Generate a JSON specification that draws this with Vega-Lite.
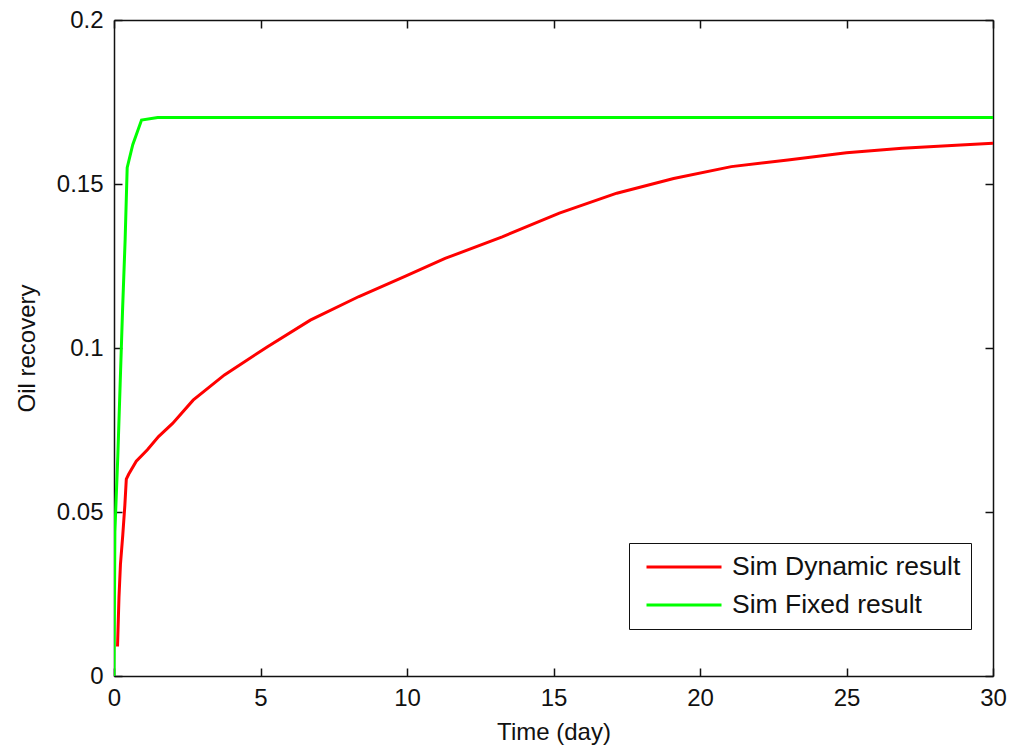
{
  "$schema": "https://vega.github.io/schema/vega-lite/v6.json",
  "width": 879,
  "height": 656,
  "autosize": {"type": "none"},
  "padding": {"left": 114, "top": 20, "right": 18, "bottom": 75},
  "background": "white",
  "config": {
    "font": "Liberation Sans",
    "view": {"stroke": null},
    "axis": {
      "grid": false,
      "domainColor": "#111111",
      "domainWidth": 1.5,
      "tickColor": "#111111",
      "tickWidth": 1.5,
      "tickSize": -8,
      "labelFlush": false,
      "labelFontSize": 24,
      "labelColor": "#111111",
      "titleFontSize": 24,
      "titleFontWeight": "normal",
      "titleColor": "#111111"
    },
    "legend": {
      "orient": "none",
      "legendX": 515,
      "legendY": 523,
      "strokeColor": "#111111",
      "fillColor": "white",
      "padding": 10,
      "symbolType": "stroke",
      "symbolSize": 5625,
      "symbolStrokeWidth": 3,
      "symbolOffset": 6,
      "labelOffset": 9,
      "labelFontSize": 26.5,
      "labelColor": "#111111",
      "labelLimit": 400,
      "clipHeight": 28,
      "rowPadding": 10
    }
  },
  "data": {
    "values": [
      {"series": "Sim Dynamic result", "day": 0.12, "recovery": 0.009},
      {"series": "Sim Dynamic result", "day": 0.17, "recovery": 0.024},
      {"series": "Sim Dynamic result", "day": 0.22, "recovery": 0.034},
      {"series": "Sim Dynamic result", "day": 0.3, "recovery": 0.043},
      {"series": "Sim Dynamic result", "day": 0.37, "recovery": 0.052},
      {"series": "Sim Dynamic result", "day": 0.42, "recovery": 0.06},
      {"series": "Sim Dynamic result", "day": 0.5, "recovery": 0.0615},
      {"series": "Sim Dynamic result", "day": 0.76, "recovery": 0.0655},
      {"series": "Sim Dynamic result", "day": 1.14, "recovery": 0.069},
      {"series": "Sim Dynamic result", "day": 1.52, "recovery": 0.073},
      {"series": "Sim Dynamic result", "day": 2.0, "recovery": 0.077},
      {"series": "Sim Dynamic result", "day": 2.7, "recovery": 0.0841},
      {"series": "Sim Dynamic result", "day": 3.77, "recovery": 0.0918},
      {"series": "Sim Dynamic result", "day": 5.24, "recovery": 0.1004},
      {"series": "Sim Dynamic result", "day": 6.7, "recovery": 0.1085},
      {"series": "Sim Dynamic result", "day": 8.36, "recovery": 0.1157},
      {"series": "Sim Dynamic result", "day": 9.93, "recovery": 0.1218},
      {"series": "Sim Dynamic result", "day": 11.3, "recovery": 0.1273},
      {"series": "Sim Dynamic result", "day": 13.25, "recovery": 0.1339},
      {"series": "Sim Dynamic result", "day": 15.2, "recovery": 0.1411},
      {"series": "Sim Dynamic result", "day": 17.16, "recovery": 0.1472},
      {"series": "Sim Dynamic result", "day": 19.1, "recovery": 0.1517},
      {"series": "Sim Dynamic result", "day": 21.07, "recovery": 0.1553},
      {"series": "Sim Dynamic result", "day": 23.0, "recovery": 0.1573},
      {"series": "Sim Dynamic result", "day": 25.0, "recovery": 0.1595},
      {"series": "Sim Dynamic result", "day": 26.9, "recovery": 0.1609},
      {"series": "Sim Dynamic result", "day": 28.9, "recovery": 0.1619},
      {"series": "Sim Dynamic result", "day": 30.0, "recovery": 0.1624},
      {"series": "Sim Fixed result", "day": 0.0, "recovery": 0.0},
      {"series": "Sim Fixed result", "day": 0.03, "recovery": 0.044},
      {"series": "Sim Fixed result", "day": 0.13, "recovery": 0.067},
      {"series": "Sim Fixed result", "day": 0.21, "recovery": 0.089},
      {"series": "Sim Fixed result", "day": 0.29, "recovery": 0.111},
      {"series": "Sim Fixed result", "day": 0.38, "recovery": 0.133},
      {"series": "Sim Fixed result", "day": 0.45, "recovery": 0.155},
      {"series": "Sim Fixed result", "day": 0.64, "recovery": 0.162},
      {"series": "Sim Fixed result", "day": 0.94, "recovery": 0.1695},
      {"series": "Sim Fixed result", "day": 1.49, "recovery": 0.1703},
      {"series": "Sim Fixed result", "day": 30.0, "recovery": 0.1703}
    ]
  },
  "layer": [
    {
      "mark": {"type": "line", "strokeWidth": 3, "clip": true},
      "encoding": {
        "x": {
          "field": "day",
          "type": "quantitative",
          "scale": {"domain": [0, 30], "nice": false, "zero": false},
          "axis": {
            "orient": "bottom",
            "values": [0, 5, 10, 15, 20, 25, 30],
            "title": "Time (day)",
            "labelPadding": 18,
            "titlePadding": 10
          }
        },
        "y": {
          "field": "recovery",
          "type": "quantitative",
          "scale": {"domain": [0, 0.2], "nice": false},
          "axis": {
            "orient": "left",
            "values": [0, 0.05, 0.1, 0.15, 0.2],
            "format": "~g",
            "title": "Oil recovery",
            "labelPadding": 19,
            "titlePadding": 17
          }
        },
        "color": {
          "field": "series",
          "type": "nominal",
          "scale": {
            "domain": ["Sim Dynamic result", "Sim Fixed result"],
            "range": ["#ff0000", "#00ff00"]
          },
          "legend": {"title": null}
        }
      }
    },
    {
      "mark": {"type": "line", "strokeOpacity": 0},
      "encoding": {
        "x": {
          "field": "day",
          "type": "quantitative",
          "axis": {
            "orient": "top",
            "values": [0, 5, 10, 15, 20, 25, 30],
            "labels": false,
            "title": null
          }
        },
        "y": {
          "field": "recovery",
          "type": "quantitative",
          "axis": {
            "orient": "right",
            "values": [0, 0.05, 0.1, 0.15, 0.2],
            "labels": false,
            "title": null
          }
        },
        "detail": {"field": "series", "type": "nominal"}
      }
    }
  ],
  "resolve": {"axis": {"x": "independent", "y": "independent"}}
}
